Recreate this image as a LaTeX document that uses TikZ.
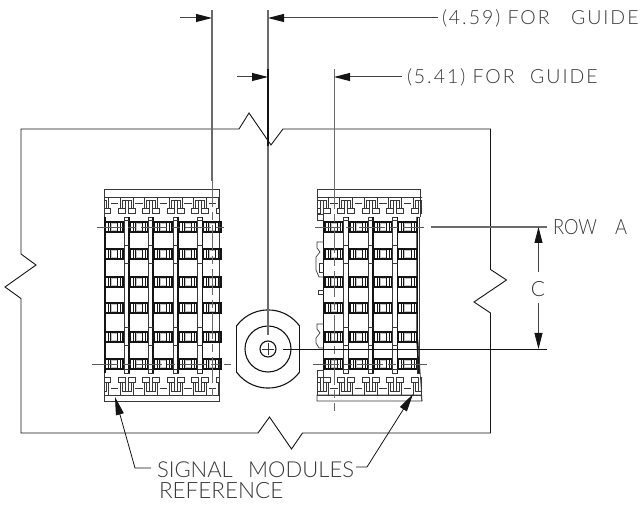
\documentclass[tikz,border=0pt]{standalone}
\usepackage{fontspec}
\setmainfont{Lato}[UprightFont=* Light]
\usetikzlibrary{arrows.meta}
\definecolor{ink}{gray}{0.08}
\definecolor{mid}{gray}{0.42}
\tikzset{
  outline/.style={draw=ink,line width=0.9pt,line join=miter},
  ext/.style={draw=mid,line width=1.1pt},
  dimline/.style={draw=ink,line width=0.9pt},
  dimarrow/.style={draw=ink!80,line width=1pt,-{Stealth[length=16pt,width=8pt,inset=0pt,color=ink,fill=ink]}},
  leader/.style={draw=ink,line width=0.8pt,-{Stealth[length=18pt,width=8pt,inset=0pt,color=ink,fill=ink]}},
  center dash/.style={draw=ink!70,line width=0.9pt,dash pattern=on 26pt off 5pt on 8pt off 5pt},
  thin part/.style={draw=ink!85,line width=0.7pt},
  label text/.style={inner sep=0pt,outer sep=0pt,font=\fontsize{19.5pt}{21pt}\selectfont,text=ink!85,anchor=base west},
}
\newfontfamily\widelabel[UprightFont=* Light,LetterSpace=10]{Lato}
% connector cluster between signal rows; #1 x, #2 y of band edge, #3 direction
\newcommand{\conncluster}[3]{%
  \begin{scope}[shift={(#1,#2)},yscale=#3,thin part]
    \draw (-8.5,11) rectangle (-1.5,16);
    \draw (1.5,11) rectangle (8.5,16);
    \draw (-6.5,0) -- (-6.5,11) (6.5,0) -- (6.5,11);
    \draw (-4.5,3) -- (-4.5,11) (4.5,3) -- (4.5,11);
    \draw (-6.5,0) -- (6.5,0) (-4.5,3) -- (4.5,3);
    \draw (-1.5,3) -- (-1.5,13) (1.5,3) -- (1.5,13);
    \draw (6.5,0) -- (18,0) (8.5,6) -- (16,6);
    \draw (-6.5,0) -- (-18,0);
  \end{scope}}
% one signal cell #1 left, #2 right, #3 y
\newcommand{\sigcell}[3]{%
  \fill[white!60!mid] ({#1+5},{#3-5}) rectangle ({#2-5},{#3+5});
  \fill[white] ({#1+6.5},{#3-3}) rectangle ({#2-6.5},{#3+3});
  \draw[ink,line width=1.2pt] (#1,{#3-5}) rectangle (#2,{#3+5});
  \draw[ink,line width=1pt] ({#1+3},{#3-5}) -- ({#1+3},{#3+5}) ({#2-3},{#3-5}) -- ({#2-3},{#3+5});
  \draw[ink,line width=0.7pt] ({#1+5.5},{#3-5}) -- ({#1+5.5},{#3+5}) ({#2-5.5},{#3-5}) -- ({#2-5.5},{#3+5});}
% vertical bar #1 left x
\newcommand{\sigbar}[1]{%
  \draw[thin part,fill=white] (#1,217) rectangle ({#1+5},373);
  \draw[ink,line width=1.5pt] ({#1+5},217) -- ({#1+5},373);
  \draw[thin part] (#1,220) -- ({#1+5},220) (#1,245) -- ({#1+5},245) (#1,263) -- ({#1+5},263)
     (#1,327) -- ({#1+5},327) (#1,345) -- ({#1+5},345) (#1,369) -- ({#1+5},369);}
\begin{document}
\begin{tikzpicture}[x=1pt,y=-1pt]
\useasboundingbox (0,0) rectangle (641,505);
% plate outline with break marks
\draw[outline] (21,129) -- (239,129) -- (249,113) -- (271,145) -- (283,129) -- (490.5,129)
  -- (490.5,269.5) -- (506.5,280) -- (474,302) -- (490.5,313) -- (490.5,433)
  -- (302.5,433) -- (291.5,449) -- (269.5,417) -- (258,433) -- (21,433)
  -- (21,298.5) -- (5,287) -- (36,265) -- (21,254) -- cycle;

% left module
\draw[thin part] (104,189) rectangle (219,401);
\draw[thin part] (104,197) -- (219,197) (104,395) -- (219,395);
\begin{scope}
  \clip (104,189) rectangle (219.5,401);
  \foreach \cx in {102,126.5,151,175.5,200,224.5} {
    \conncluster{\cx}{197}{1}
    \conncluster{\cx}{395}{-1.125}
  }
\end{scope}
\foreach \yy in {227,254,282,308,337,364} {
  \foreach \xa/\xb in {105/123,130/148,154/172,179/197,203/221} { \sigcell{\xa}{\xb}{\yy} }
}
\draw[ink,line width=1.2pt] (105,217) -- (105,373);
\foreach \bx in {124,148,173,197.5} { \sigbar{\bx} }

% right module
\draw[thin part] (317,189) -- (420,189) -- (420,197) -- (317,197) -- cycle;
\draw[thin part] (317,395) -- (421,395) -- (422,401) -- (317,401) -- cycle;
\draw[thin part] (317,197) -- (317,220) (420,197) -- (420,217) (317,377) -- (317,395);
\begin{scope}
  \clip (317,189) rectangle (422,401);
  \foreach \cx in {321.5,346,370.5,395,419.5} {
    \conncluster{\cx}{197}{1}
    \conncluster{\cx}{395}{-1.125}
  }
\end{scope}
\foreach \yy in {227,254,282,308,337,364} {
  \foreach \xa/\xb in {325/343,350/368,374/392,398/417} { \sigcell{\xa}{\xb}{\yy} }
}
\draw[ink,line width=1.5pt] (323.5,217) -- (323.5,373);
\foreach \bx in {343.5,368,392.5} { \sigbar{\bx} }
\draw[thin part,fill=white] (417,217) rectangle (419.5,373);
\draw[ink,line width=1.5pt] (417,217) -- (417,340) -- (419,373);
\draw[thin part] (418,340) -- (422,401);
\draw[thin part] (317,214) rectangle (323.5,220);
\draw[thin part] (317,370) rectangle (323.5,377);
\draw[thin part] (323.5,242) -- (317,242) -- (317,248) -- (320,252) -- (316,257) -- (316,270) -- (319,277) -- (323.5,277);
\draw[thin part] (323.5,263) -- (319,263) -- (319,272) -- (323.5,272);
\draw[thin part] (323.5,290) -- (318,290) -- (318,294) -- (323.5,294);
\draw[thin part] (323.5,324) -- (317,324) -- (317,329) -- (320,333) -- (316,338) -- (316,343) -- (319,348) -- (323.5,348);

% centre lines across rows
\draw[center dash] (97,227) -- (225,227);
\draw[center dash] (92,364) -- (231,364);
\draw[center dash] (315,227) -- (424,227);
\draw[center dash] (313,364) -- (429,364);

% guide
\draw[ink,line width=1.1pt] (236.5,326) arc[start angle=216,end angle=324,radius=39,y radius=39] ;
\draw[ink,line width=1.1pt] (299.5,326) -- (299.5,372) ;
\draw[ink,line width=1.1pt] (236.5,326) -- (236.5,372) ;
\draw[ink,line width=1.1pt] (236.5,372) arc[start angle=144,end angle=36,radius=39];
\node[circle,draw=ink,line width=1.1pt,minimum size=46pt,inner sep=0pt] (midring) at (268,349) {};
\node[circle,draw=ink,line width=1.1pt,minimum size=16pt,inner sep=0pt] (innerring) at (268,349) {};
\draw[thin part] (262,349) -- (274,349) (268,343) -- (268,355);

% witness lines
\coordinate (w1t) at (212,10);
\coordinate (w1b) at (212,181);
\coordinate (w2t) at (268,10);
\coordinate (w2b) at (268,335);
\coordinate (w3t) at (334,69);
\coordinate (w3b) at (334,183);
\draw[ext] (w1t) -- (w1b);
\draw[center dash,draw=mid] (w1b) -- (212,401);
\draw[ext] (w2t) -- (268,69);
\draw[ink,line width=1.2pt] (268,69) -- (268,146);
\draw[ext] (268,146) -- (w2b);
\draw[ext,line width=0.9pt] (w3t) -- (w3b);
\draw[center dash,draw=mid] (w3b) -- (334,411);

% dimension arrows
\coordinate (a1s) at (180,18); \coordinate (a1t) at (212,18);
\coordinate (a2s) at (438,18); \coordinate (a2t) at (268,18);
\coordinate (a3s) at (237,77); \coordinate (a3t) at (268,77);
\coordinate (a4s) at (402,77); \coordinate (a4t) at (334,77);
\foreach \s/\t in {a1s/a1t,a2s/a2t,a3s/a3t,a4s/a4t} { \draw[dimarrow] (\s) -- (\t); }

% labels
\node[label text] (t1) at (442,25) {\widelabel (4.59) FOR\hspace{1.1em}GUIDE};
\node[label text] (t2) at (407,84) {\widelabel (5.41) FOR\hspace{0.8em}GUIDE};
\node[label text,font=\fontsize{21pt}{22pt}\selectfont] (t3) at (553,234.5) {\scalebox{0.87}[1]{ROW\hspace{1em}A}};
\node[label text,font=\fontsize{21pt}{22pt}\selectfont,anchor=base] (tc) at (538,296.5) {C};
\node[label text,font=\fontsize{22pt}{23pt}\selectfont] (t4) at (157,478) {SIGNAL\hspace{0.7em}MODULES};
\node[label text,font=\fontsize{22.5pt}{23pt}\selectfont] (t5) at (159,499) {REFERENCE};

% row dimension
\coordinate (ra) at (538.5,227);
\coordinate (rb) at (538.5,349);
\draw[ext] (431,227) -- (547,227);
\draw[dimline] (283,349) -- (547,349);
\draw[dimarrow,line width=0.9pt] (538.5,272) -- (ra);
\draw[dimarrow,line width=0.9pt] (538.5,303) -- (rb);

% leaders
\coordinate (l1) at (115,397); \coordinate (l1e) at (135,468); \coordinate (l1s) at (151,468);
\coordinate (l2) at (413,394); \coordinate (l2e) at (367,467); \coordinate (l2s) at (356,467);
\draw[leader] (l1s) -- (l1e) -- (l1);
\draw[leader] (l2s) -- (l2e) -- (l2);
\end{tikzpicture}
\end{document}
